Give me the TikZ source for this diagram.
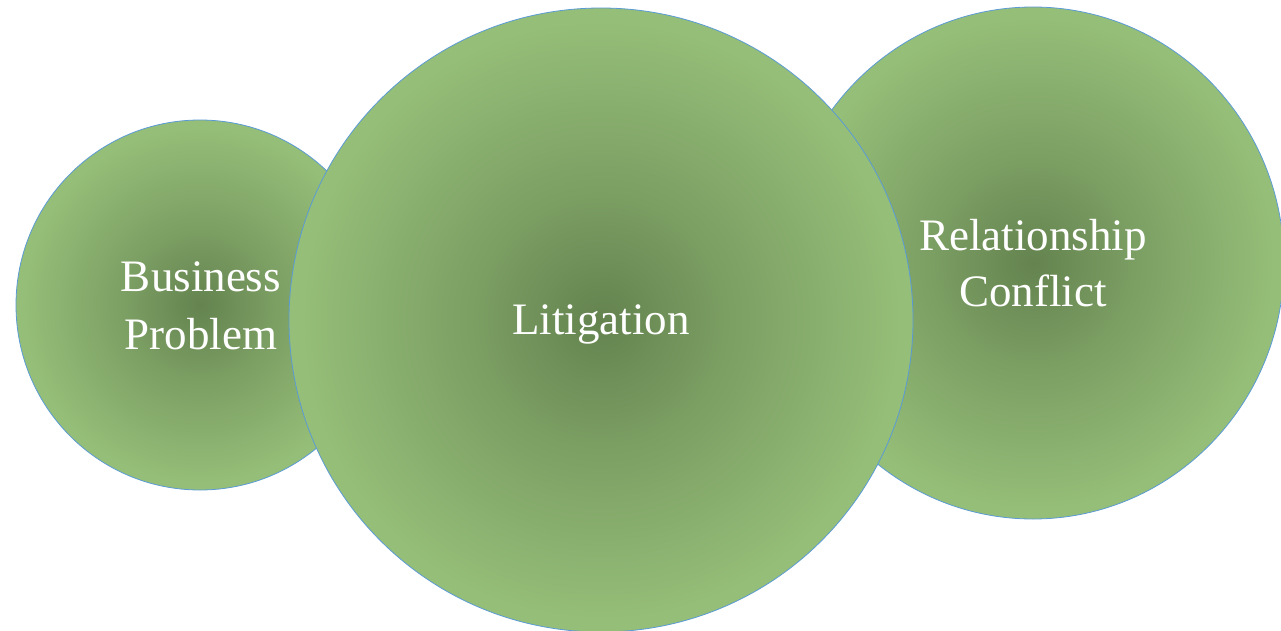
\documentclass[tikz,border=0pt]{standalone}
\usepackage{fontspec}
\setmainfont{Liberation Serif}
\definecolor{gdark}{HTML}{64834F}
\definecolor{gmid}{HTML}{7B9E63}
\definecolor{glight}{HTML}{95BE78}
\definecolor{edgeblue}{HTML}{5B9BD5}
\pgfdeclareradialshading{greenball}{\pgfpoint{0bp}{0bp}}{%
  color(0bp)=(gdark); color(10bp)=(gmid); color(24bp)=(glight); color(50bp)=(glight)}
\tikzset{
  ball/.style={shading=greenball, draw=edgeblue, line width=0.8pt},
  lbl/.style={text=white, font=\fontsize{45}{58}\selectfont, align=center, inner sep=0pt}
}
\begin{document}
\begin{tikzpicture}[x=1pt,y=-1pt]
\useasboundingbox (0,0) rectangle (1281,631);
\path[ball] (200,305) ellipse [x radius=184, y radius=185];
\path[ball] (1033,263) ellipse [x radius=251, y radius=256];
\path[ball] (601,320) circle [radius=312];
\node[lbl] (bp) at (201,306) {Business\\Problem};
\node[lbl] (lit) at (601,324) {Litigation};
\node[lbl, font=\fontsize{45}{56}\selectfont] (rc) at (1033,263) {Relationship\\Conflict};
\end{tikzpicture}
\end{document}
